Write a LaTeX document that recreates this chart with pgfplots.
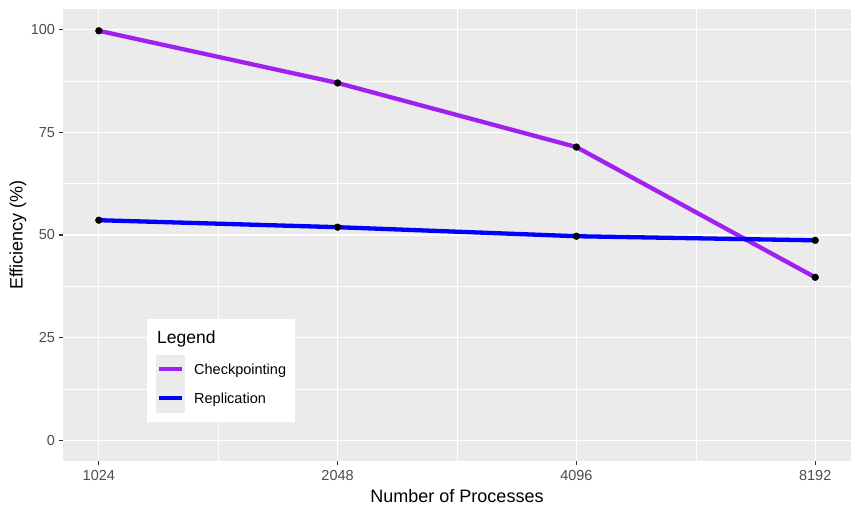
\documentclass[border=0pt]{standalone}
\usepackage{fontspec}
\setmainfont{Liberation Sans}
\usepackage{pgfplots}
\pgfplotsset{compat=1.18}
\definecolor{panelbg}{HTML}{EBEBEB}
\definecolor{tickgray}{HTML}{4D4D4D}
\definecolor{tickline}{HTML}{333333}
\definecolor{rpurple}{HTML}{A020F0}
\definecolor{rblue}{HTML}{0000FF}
\definecolor{keybg}{HTML}{EBEBEB}
\begin{document}
\begin{tikzpicture}[x=1pt,y=1pt]
\fill[white] (0,0) rectangle (861,516);
\begin{axis}[
  at={(63pt,55pt)}, anchor=south west,
  scale only axis, width=788pt, height=452pt,
  xmin=-0.15, xmax=3.15, ymin=-5, ymax=105,
  xtick={0,1,2,3}, xticklabels={1024,2048,4096,8192},
  ytick={0,25,50,75,100},
  minor xtick={0.5,1.5,2.5},
  minor ytick={12.5,37.5,62.5,87.5},
  grid=both,
  major grid style={white, line width=1.1pt},
  minor grid style={white, line width=0.55pt},
  axis line style={draw=none},
  axis background/.style={fill=panelbg},
  tick align=outside, tick pos=left,
  major tick length=4.5pt, minor tick length=0pt,
  major tick style={tickline, line width=1.1pt},
  /pgf/number format/assume math mode=true,
  ticklabel style={font=\fontsize{14.5}{16}\selectfont, text=tickgray},
  xticklabel style={yshift=-1pt},
  clip=false,
]
\addplot[rpurple, line width=4.3pt] coordinates {(0,99.7) (1,87.0) (2,71.4) (3,39.7)};
\addplot[rblue, line width=4.3pt] coordinates {(0,53.6) (1,51.9) (2,49.7) (3,48.7)};
\addplot[only marks, mark=*, mark size=3.4pt, black] coordinates {(0,99.7) (1,87.0) (2,71.4) (3,39.7)};
\addplot[only marks, mark=*, mark size=3.4pt, black] coordinates {(0,53.6) (1,51.9) (2,49.7) (3,48.7)};
\end{axis}
% axis titles
\node[font=\fontsize{18}{20}\selectfont, rotate=90] at (18,281) {Efficiency (\%)};
\node[font=\fontsize{18}{20}\selectfont] at (457,20) {Number of Processes};
% legend
\fill[white] (147,94) rectangle (295,197);
\node[font=\fontsize{17.5}{19}\selectfont, anchor=west, inner sep=0pt] at (157,177) {Legend};
\fill[keybg] (156,103) rectangle (185,161);
\draw[rpurple, line width=4.3pt] (159,147) -- (182,147);
\draw[rblue, line width=4.3pt] (159,118) -- (182,118);
\node[font=\fontsize{14.5}{16}\selectfont, anchor=west, inner sep=0pt] at (194,145) {Checkpointing};
\node[font=\fontsize{14.5}{16}\selectfont, anchor=west, inner sep=0pt] at (194,116) {Replication};
\end{tikzpicture}
\end{document}
